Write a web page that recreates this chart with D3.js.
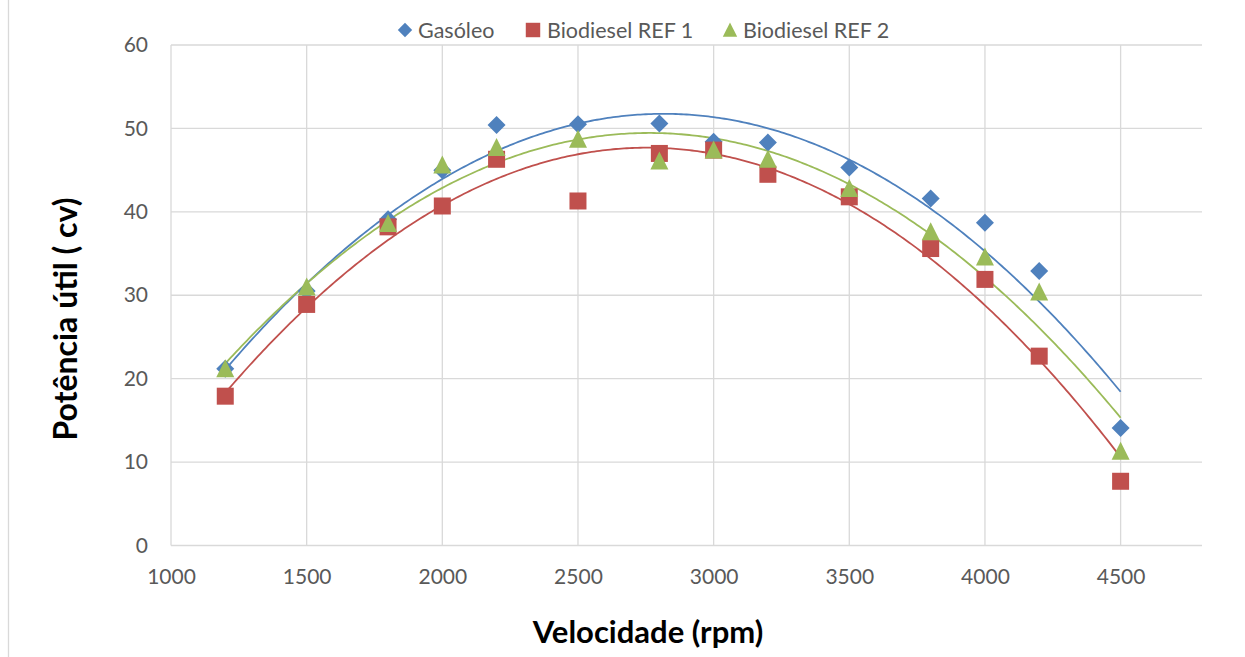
<!DOCTYPE html>
<html>
<head>
<meta charset="utf-8">
<script src="https://cdn.jsdelivr.net/npm/d3@7"></script>
<style>
  html, body { margin: 0; padding: 0; background: #fff; }
  svg { display: block; }
</style>
</head>
<body>
<svg id="chart" width="1245" height="657"></svg>
<script>
const rpm = [1200, 1500, 1800, 2000, 2200, 2500, 2800, 3000, 3200, 3500, 3800, 4000, 4200, 4500];
const gasoleo = [21.2, 30.5, 39.1, 45.0, 50.4, 50.5, 50.6, 48.4, 48.3, 45.3, 41.6, 38.7, 32.9, 14.1];
const ref1    = [17.9, 28.9, 38.2, 40.7, 46.3, 41.3, 47.0, 47.4, 44.5, 41.8, 35.6, 31.9, 22.7, 7.7];
const ref2    = [21.2, 31.0, 38.6, 45.6, 47.7, 48.7, 46.1, 47.4, 46.3, 42.8, 37.6, 34.6, 30.4, 11.3];
const seriesNames = ["Gasóleo", "Biodiesel REF 1", "Biodiesel REF 2"];
const seriesColors = ["#4F81BD", "#C0504D", "#9BBB59"];
const seriesShapes = ["diamond", "square", "triangle"];
const xTicks = [1000, 1500, 2000, 2500, 3000, 3500, 4000, 4500];
const yTicks = [0, 10, 20, 30, 40, 50, 60];
const xTitle = "Velocidade (rpm)";
const yTitle = "Potência útil ( cv)";

(function () {
const series = [gasoleo, ref1, ref2].map((vals, i) => ({
  name: seriesNames[i], color: seriesColors[i], shape: seriesShapes[i],
  pts: rpm.map((x, j) => ({x, y: vals[j]}))
}));

const svg = d3.select("#chart");
const FONT = "Lato, 'Open Sans', sans-serif";
const pLeft = 171, pRight = 1202, pTop = 45, pBottom = 545.5;

const x = d3.scaleLinear().domain([1000, 4800]).range([pLeft, pRight]);
const y = d3.scaleLinear().domain([0, 60]).range([pBottom, pTop]);

// chart border (left edge visible)
svg.append("line").attr("x1", 8.5).attr("x2", 8.5).attr("y1", 0).attr("y2", 657)
  .attr("stroke", "#D9D9D9").attr("stroke-width", 1.3);

// gridlines
const grid = svg.append("g");
grid.selectAll("line.h").data(yTicks).join("line").attr("class", "h")
  .attr("x1", pLeft).attr("x2", pRight)
  .attr("y1", d => y(d)).attr("y2", d => y(d))
  .attr("stroke", "#D9D9D9").attr("stroke-width", 1.3);
grid.selectAll("line.v").data(xTicks).join("line").attr("class", "v")
  .attr("y1", pTop).attr("y2", pBottom)
  .attr("x1", d => x(d)).attr("x2", d => x(d))
  .attr("stroke", "#D9D9D9").attr("stroke-width", 1.3);

// axes (labels only)
const xAxis = svg.append("g").attr("transform", `translate(0,${pBottom})`)
  .call(d3.axisBottom(x).tickValues(xTicks).tickSize(0).tickPadding(24).tickFormat(d3.format("d")));
xAxis.select(".domain").remove();
xAxis.selectAll("text").attr("font-family", FONT).attr("font-size", 21).attr("fill", "#595959");

const yAxis = svg.append("g").attr("transform", `translate(${pLeft},0)`)
  .call(d3.axisLeft(y).tickValues(yTicks).tickSize(0).tickPadding(23).tickFormat(d3.format("d")));
yAxis.select(".domain").remove();
yAxis.selectAll("text").attr("font-family", FONT).attr("font-size", 21).attr("fill", "#595959");

// quadratic least-squares trendline
function quadFit(pts) {
  let n = pts.length, sx = 0, sx2 = 0, sx3 = 0, sx4 = 0, sy = 0, sxy = 0, sx2y = 0;
  pts.forEach(p => {
    const t = p.x / 1000;
    sx += t; sx2 += t*t; sx3 += t*t*t; sx4 += t*t*t*t;
    sy += p.y; sxy += t*p.y; sx2y += t*t*p.y;
  });
  const M = [[n, sx, sx2, sy], [sx, sx2, sx3, sxy], [sx2, sx3, sx4, sx2y]];
  for (let i = 0; i < 3; i++) {
    for (let k = i + 1; k < 3; k++) {
      const f = M[k][i] / M[i][i];
      for (let j = i; j < 4; j++) M[k][j] -= f * M[i][j];
    }
  }
  const c = [0, 0, 0];
  for (let i = 2; i >= 0; i--) {
    let s = M[i][3];
    for (let j = i + 1; j < 3; j++) s -= M[i][j] * c[j];
    c[i] = s / M[i][i];
  }
  return xv => { const t = xv / 1000; return c[0] + c[1]*t + c[2]*t*t; };
}

const line = d3.line().x(d => x(d.x)).y(d => y(d.y)).curve(d3.curveLinear);
const xMin = d3.min(rpm), xMax = d3.max(rpm);
const samples = d3.range(xMin, xMax + 1, 10);

series.forEach(s => {
  const f = quadFit(s.pts);
  svg.append("path").datum(samples.map(v => ({x: v, y: f(v)})))
    .attr("d", line).attr("fill", "none")
    .attr("stroke", s.color).attr("stroke-width", 1.8);
});

function symbolPath(shape) {
  if (shape === "diamond") return "M0,-9L9,0L0,9L-9,0Z";
  if (shape === "square") return "M-8.5,-8.5H8.5V8.5H-8.5Z";
  return "M0,-9.5L9,8.5H-9Z";
}

series.forEach(s => {
  svg.append("g").selectAll("path").data(s.pts).join("path")
    .attr("transform", d => `translate(${x(d.x)},${y(d.y)})`)
    .attr("d", symbolPath(s.shape))
    .attr("fill", s.color);
});

// legend
const legendItems = [
  {sx: 405, tx: 418},
  {sx: 533, tx: 547},
  {sx: 730, tx: 743}
];
series.forEach((s, i) => {
  const L = legendItems[i];
  const sc = s.shape === "square" ? 0.85 : 0.8;
  svg.append("path").attr("transform", `translate(${L.sx},30) scale(${sc})`)
    .attr("d", symbolPath(s.shape)).attr("fill", s.color);
  svg.append("text").attr("x", L.tx).attr("y", 37.5)
    .attr("font-family", FONT).attr("font-size", 21.5).attr("fill", "#595959")
    .text(s.name);
});

// axis titles
svg.append("text").attr("x", 648).attr("y", 643)
  .attr("text-anchor", "middle").attr("font-family", FONT).attr("font-weight", "bold")
  .attr("font-size", 31).attr("fill", "#000").text(xTitle);
svg.append("text").attr("transform", `translate(77,319) rotate(-90)`)
  .attr("text-anchor", "middle").attr("font-family", FONT).attr("font-weight", "bold")
  .attr("font-size", 32).attr("fill", "#000").text(yTitle);
})();
</script>
</body>
</html>
